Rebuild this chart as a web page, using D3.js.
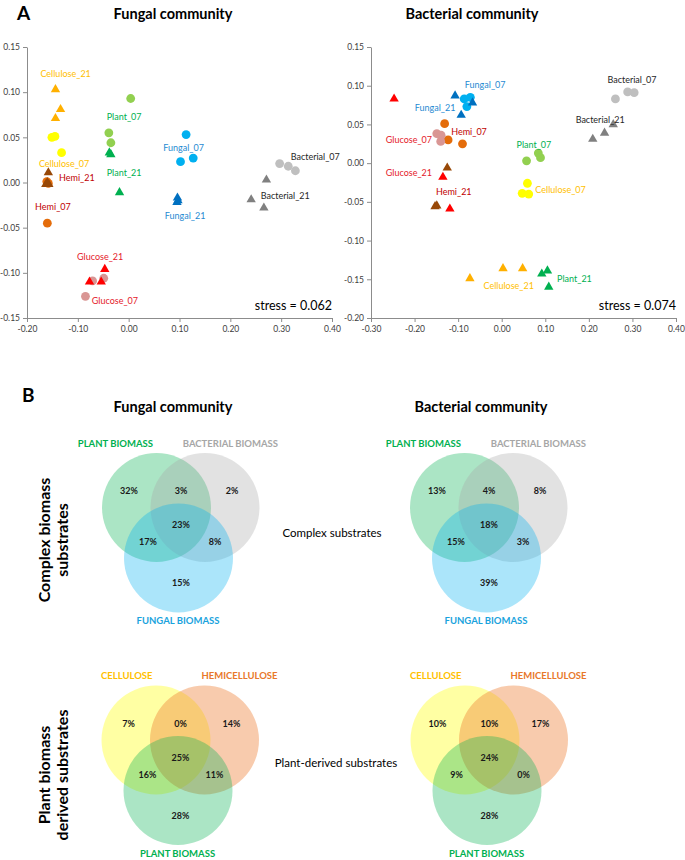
<!DOCTYPE html>
<html>
<head>
<meta charset="utf-8">
<script src="https://cdn.jsdelivr.net/npm/d3@7"></script>
<style>
body { margin: 0; background: #fff; }
svg { font-family: Lato, "Open Sans", sans-serif; }
</style>
</head>
<body>
<div id="figure"></div>
<script>
var svgWidth = 685;
var svgHeight = 860;

// ---------- A: NMDS scores [treatment, NMDS1, NMDS2] ----------
var fungalNMDS = [
    ["Hemi_07", -0.160, -0.045], ["Hemi_07", -0.158, -0.001], ["Hemi_07", -0.161, 0.001],
    ["Cellulose_07", -0.151, 0.050], ["Cellulose_07", -0.145, 0.051], ["Cellulose_07", -0.132, 0.033],
    ["Plant_07", 0.004, 0.093], ["Plant_07", -0.039, 0.055], ["Plant_07", -0.035, 0.044],
    ["Fungal_07", 0.113, 0.053], ["Fungal_07", 0.127, 0.027], ["Fungal_07", 0.102, 0.023],
    ["Bacterial_07", 0.297, 0.021], ["Bacterial_07", 0.314, 0.018], ["Bacterial_07", 0.328, 0.013],
    ["Glucose_07", -0.071, -0.109], ["Glucose_07", -0.049, -0.106], ["Glucose_07", -0.085, -0.126],
    ["Cellulose_21", -0.144, 0.103], ["Cellulose_21", -0.134, 0.081], ["Cellulose_21", -0.144, 0.071],
    ["Plant_21", -0.038, 0.033], ["Plant_21", -0.035, 0.031], ["Plant_21", -0.018, -0.011],
    ["Fungal_21", 0.096, -0.017], ["Fungal_21", 0.097, -0.020], ["Fungal_21", 0.095, -0.022],
    ["Bacterial_21", 0.271, 0.003], ["Bacterial_21", 0.241, -0.019], ["Bacterial_21", 0.266, -0.028],
    ["Hemi_21", -0.158, 0.011], ["Hemi_21", -0.163, -0.002], ["Hemi_21", -0.157, -0.002], ["Hemi_21", -0.160, 0.000],
    ["Glucose_21", -0.047, -0.096], ["Glucose_21", -0.077, -0.110], ["Glucose_21", -0.054, -0.110]
];

var bacterialNMDS = [
    ["Hemi_07", -0.131, 0.051], ["Hemi_07", -0.123, 0.030], ["Hemi_07", -0.090, 0.025],
    ["Glucose_07", -0.149, 0.038], ["Glucose_07", -0.139, 0.036], ["Glucose_07", -0.140, 0.028],
    ["Fungal_07", -0.086, 0.083], ["Fungal_07", -0.072, 0.085], ["Fungal_07", -0.080, 0.073],
    ["Plant_07", 0.057, 0.003], ["Plant_07", 0.084, 0.013], ["Plant_07", 0.089, 0.007],
    ["Cellulose_07", 0.059, -0.026], ["Cellulose_07", 0.047, -0.039], ["Cellulose_07", 0.062, -0.040],
    ["Bacterial_07", 0.261, 0.083], ["Bacterial_07", 0.289, 0.092], ["Bacterial_07", 0.304, 0.091],
    ["Glucose_21", -0.247, 0.083], ["Glucose_21", -0.135, -0.018], ["Glucose_21", -0.119, -0.059],
    ["Hemi_21", -0.125, -0.006], ["Hemi_21", -0.153, -0.056], ["Hemi_21", -0.149, -0.055],
    ["Fungal_21", -0.107, 0.087], ["Fungal_21", -0.067, 0.078], ["Fungal_21", -0.093, 0.062],
    ["Bacterial_21", 0.209, 0.031], ["Bacterial_21", 0.236, 0.039], ["Bacterial_21", 0.256, 0.050],
    ["Cellulose_21", -0.073, -0.149], ["Cellulose_21", 0.003, -0.136], ["Cellulose_21", 0.048, -0.136],
    ["Plant_21", 0.092, -0.143], ["Plant_21", 0.105, -0.139], ["Plant_21", 0.108, -0.160]
];

// label anchors, in NMDS units
var fungalLabels = [
    ["Cellulose_21", -0.124, 0.121], ["Plant_07", -0.009, 0.073], ["Fungal_07", 0.108, 0.039],
    ["Bacterial_07", 0.367, 0.029], ["Cellulose_07", -0.127, 0.021], ["Plant_21", -0.009, 0.011],
    ["Hemi_21", -0.102, 0.0055], ["Bacterial_21", 0.308, -0.014], ["Hemi_07", -0.149, -0.027],
    ["Fungal_21", 0.111, -0.037], ["Glucose_21", -0.056, -0.082], ["Glucose_07", -0.027, -0.131]
];
var bacterialLabels = [
    ["Fungal_07", -0.038, 0.102], ["Fungal_21", -0.153, 0.072], ["Hemi_07", -0.075, 0.0405],
    ["Glucose_07", -0.213, 0.030], ["Plant_07", 0.074, 0.024], ["Bacterial_07", 0.299, 0.108],
    ["Bacterial_21", 0.226, 0.056], ["Glucose_21", -0.213, -0.012], ["Cellulose_07", 0.135, -0.034],
    ["Hemi_21", -0.110, -0.036], ["Cellulose_21", 0.016, -0.158], ["Plant_21", 0.167, -0.149]
];

var fungalTicksX = [-0.20, -0.10, 0.00, 0.10, 0.20, 0.30, 0.40];
var fungalTicksY = [-0.15, -0.10, -0.05, 0.00, 0.05, 0.10, 0.15];
var bacterialTicksX = [-0.30, -0.20, -0.10, 0.00, 0.10, 0.20, 0.30, 0.40];
var bacterialTicksY = [-0.20, -0.15, -0.10, -0.05, 0.00, 0.05, 0.10, 0.15];
var stressValues = ["0.062", "0.074"];

// ---------- B: Venn percentages ----------
// order: A only, A&B, B only, A&B&C, A&C, B&C, C only
var complexSets = ["PLANT BIOMASS", "BACTERIAL BIOMASS", "FUNGAL BIOMASS"];
var plantSets = ["CELLULOSE", "HEMICELLULOSE", "PLANT BIOMASS"];
var fungalComplexPct = [32, 3, 2, 23, 17, 8, 15];
var bacterialComplexPct = [13, 4, 8, 18, 15, 3, 39];
var fungalPlantPct = [7, 0, 14, 25, 16, 11, 28];
var bacterialPlantPct = [10, 10, 17, 24, 9, 0, 28];

// ---------- styles ----------
var markerColor = {
    Cellulose_07: "#FFFF00", Cellulose_21: "#FFB000",
    Plant_07: "#92D050", Plant_21: "#00B050",
    Fungal_07: "#00B0F0", Fungal_21: "#0070C0",
    Bacterial_07: "#BFBFBF", Bacterial_21: "#808080",
    Hemi_07: "#E46C0A", Hemi_21: "#984807",
    Glucose_07: "#D99694", Glucose_21: "#FF0000"
};
var labelColor = {
    Cellulose: "#FFC000", Plant: "#00B050", Fungal: "#1F8AD2",
    Bacterial: "#262626", Hemi: "#C00000", Glucose: "#E5202A"
};
var setColor = {
    "PLANT BIOMASS": ["#00B050", "#00B050"],
    "BACTERIAL BIOMASS": ["#A6A6A6", "#A6A6A6"],
    "FUNGAL BIOMASS": ["#00B0F0", "#1AA3DD"],
    "CELLULOSE": ["#FFFF00", "#FFC000"],
    "HEMICELLULOSE": ["#ED7D31", "#E8782A"]
};

var svg = d3.select("#figure")
    .append("svg")
    .attr("width", svgWidth)
    .attr("height", svgHeight);

var fmt = function(d) { return d.toFixed(2); };

function drawNMDS(data, labels, ticksX, ticksY, box, title, stress) {
    var g = svg.append("g");

    var x = d3.scaleLinear().domain(d3.extent(ticksX)).range([box.left, box.right]);
    var y = d3.scaleLinear().domain(d3.extent(ticksY)).range([box.bottom, box.top]);

    var xAxis = g.append("g")
        .attr("transform", `translate(0,${box.bottom})`)
        .call(d3.axisBottom(x).tickValues(ticksX).tickFormat(fmt).tickSize(4).tickSizeOuter(0).tickPadding(4));
    var yAxis = g.append("g")
        .attr("transform", `translate(${box.left},0)`)
        .call(d3.axisLeft(y).tickValues(ticksY).tickFormat(fmt).tickSize(4).tickSizeOuter(0).tickPadding(3));

    [xAxis, yAxis].forEach(function(a) {
        a.selectAll("path, line").attr("stroke", "#8C8C8C");
        a.selectAll("text").attr("fill", "#404040").style("font-size", "8.5px").style("font-family", "Lato, sans-serif");
    });

    // circles for day 7, triangles for day 21
    var day07 = data.filter(d => d[0].endsWith("_07"));
    var day21 = data.filter(d => d[0].endsWith("_21"));

    g.selectAll("circle.pt")
        .data(day07)
        .enter()
        .append("circle")
        .attr("class", "pt")
        .attr("cx", d => x(d[1]))
        .attr("cy", d => y(d[2]))
        .attr("r", 4.4)
        .attr("fill", d => markerColor[d[0]]);

    g.selectAll("path.tri")
        .data(day21)
        .enter()
        .append("path")
        .attr("class", "tri")
        .attr("d", d3.symbol(d3.symbolTriangle, 38))
        .attr("transform", d => `translate(${x(d[1])},${y(d[2])})`)
        .attr("fill", d => markerColor[d[0]]);

    g.selectAll("text.lab")
        .data(labels)
        .enter()
        .append("text")
        .attr("class", "lab")
        .attr("x", d => x(d[1]))
        .attr("y", d => y(d[2]))
        .attr("text-anchor", "middle")
        .attr("dominant-baseline", "central")
        .attr("fill", d => labelColor[d[0].split("_")[0]])
        .style("font-size", "9px")
        .text(d => d[0]);

    g.append("text")
        .attr("x", box.right)
        .attr("y", box.bottom - 13)
        .attr("text-anchor", "end")
        .attr("dominant-baseline", "central")
        .attr("fill", "#000")
        .style("font-size", "12.5px")
        .text("stress = " + stress);

    g.append("text")
        .attr("x", title.x)
        .attr("y", 18.5)
        .attr("text-anchor", "middle")
        .style("font-size", "14.5px")
        .style("font-weight", "bold")
        .text(title.text);
}

drawNMDS(fungalNMDS, fungalLabels, fungalTicksX, fungalTicksY,
    {left: 27, right: 332, top: 47, bottom: 318}, {x: 173, text: "Fungal community"}, stressValues[0]);
drawNMDS(bacterialNMDS, bacterialLabels, bacterialTicksX, bacterialTicksY,
    {left: 371, right: 676, top: 47, bottom: 318}, {x: 472, text: "Bacterial community"}, stressValues[1]);

// panel letters
svg.append("text").attr("x", 17).attr("y", 20).style("font-size", "19px").style("font-weight", "bold").text("A");
svg.append("text").attr("x", 22).attr("y", 402).style("font-size", "19px").style("font-weight", "bold").text("B");

// ---------- Venn diagrams ----------
var R = 54.5;
var regionOffsets = [[-52, -17], [0, -17], [51, -17], [0, 17], [-33, 34], [34, 34], [0, 75]];

function drawVenn(cx, cy, sets, pct, fills) {
    var g = svg.append("g").attr("transform", `translate(${cx},${cy})`);
    var centers = [[-24.5, 0], [24, 0], [-2.5, 50.5]];

    g.selectAll("circle")
        .data(sets)
        .enter()
        .append("circle")
        .attr("cx", (d, i) => centers[i][0])
        .attr("cy", (d, i) => centers[i][1])
        .attr("r", R)
        .attr("fill", d => setColor[d][0])
        .attr("fill-opacity", (d, i) => fills[i]);

    g.selectAll("text.pct")
        .data(pct)
        .enter()
        .append("text")
        .attr("class", "pct")
        .attr("x", (d, i) => regionOffsets[i][0])
        .attr("y", (d, i) => regionOffsets[i][1])
        .attr("text-anchor", "middle")
        .attr("dominant-baseline", "central")
        .style("font-size", "9px")
        .style("font-weight", "bold")
        .attr("fill", "#1a1a1a")
        .text(d => d + "%");

    var setLabelPos = [[-28, -64.5, "end"], [97, -64.5, "end"], [-3, 113, "middle"]];
    g.selectAll("text.set")
        .data(sets)
        .enter()
        .append("text")
        .attr("class", "set")
        .attr("x", (d, i) => setLabelPos[i][0])
        .attr("y", (d, i) => setLabelPos[i][1])
        .attr("text-anchor", (d, i) => setLabelPos[i][2])
        .attr("dominant-baseline", "central")
        .style("font-size", "9.5px")
        .style("font-weight", "bold")
        .attr("fill", d => setColor[d][1])
        .text(d => d);
}

drawVenn(181, 507.5, complexSets, fungalComplexPct, [0.33, 0.33, 0.33]);
drawVenn(489, 507.5, complexSets, bacterialComplexPct, [0.33, 0.33, 0.33]);
drawVenn(180.5, 740, plantSets, fungalPlantPct, [0.36, 0.4, 0.33]);
drawVenn(489.5, 740, plantSets, bacterialPlantPct, [0.36, 0.4, 0.33]);

// B titles
svg.append("text").attr("x", 173).attr("y", 412).attr("text-anchor", "middle")
    .style("font-size", "14.5px").style("font-weight", "bold").text("Fungal community");
svg.append("text").attr("x", 481).attr("y", 412).attr("text-anchor", "middle")
    .style("font-size", "14.5px").style("font-weight", "bold").text("Bacterial community");

// middle captions
svg.append("text").attr("x", 332).attr("y", 532).attr("text-anchor", "middle").attr("dominant-baseline", "central")
    .style("font-size", "11.5px").text("Complex substrates");
svg.append("text").attr("x", 336).attr("y", 762).attr("text-anchor", "middle").attr("dominant-baseline", "central")
    .style("font-size", "11.5px").text("Plant-derived substrates");

// row titles (rotated)
function rowTitle(lines, cy) {
    var t = svg.append("g").attr("transform", `translate(0,${cy})`);
    lines.forEach(function(s, i) {
        t.append("text")
            .attr("transform", `translate(${43 + i * 18.5},0) rotate(-90)`)
            .attr("text-anchor", "middle")
            .attr("dominant-baseline", "central")
            .style("font-size", "16px")
            .style("font-weight", "bold")
            .text(s);
    });
}
rowTitle(["Complex biomass", "substrates"], 540);
rowTitle(["Plant biomass", "derived substrates"], 775);
</script>
</body>
</html>
